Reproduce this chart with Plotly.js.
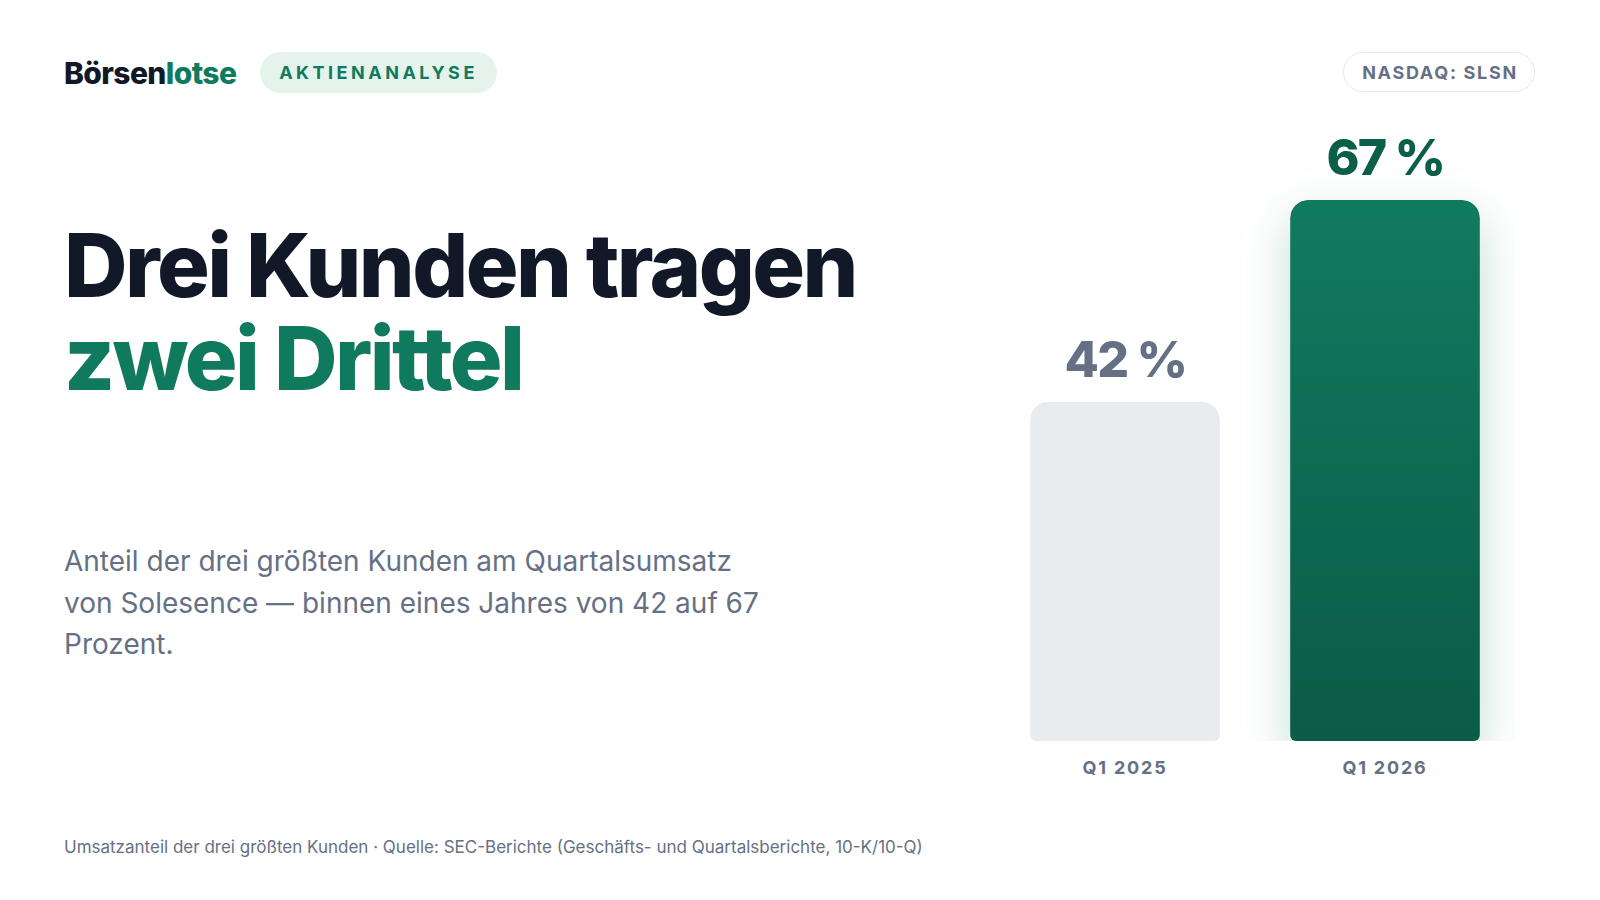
<!DOCTYPE html>
<html>
<head>
<meta charset="utf-8">
<script src="https://cdn.plot.ly/plotly-3.0.1.min.js"></script>
<style>
  html, body { margin: 0; padding: 0; background: #ffffff; }
  #wrap { position: relative; width: 1600px; height: 900px; overflow: hidden; font-family: Inter, "Noto Sans", sans-serif; }
  #chart { position: absolute; left: 0; top: 0; width: 1600px; height: 900px; }
  .ov { position: absolute; white-space: nowrap; pointer-events: none; }
  #logo { left: 64px; top: 55px; font-size: 30px; line-height: 36px; font-weight: 800; letter-spacing: -0.6px; color: #111827; }
  #logo span { color: #0F7A5D; }
  #pill1 { left: 260px; top: 52px; width: 237px; height: 41px; border-radius: 21px; background: #E5F3EC; color: #0F7A5D;
           font-size: 18px; font-weight: 700; letter-spacing: 3.5px; display: flex; align-items: center; justify-content: center; padding-left: 0px; box-sizing: border-box; }
  #pill2 { left: 1343px; top: 52px; width: 192px; height: 40px; border-radius: 20px; border: 1.5px solid #E5E7EB; background: #fff; color: #667085;
           font-size: 18px; font-weight: 700; letter-spacing: 1.7px; display: flex; align-items: center; justify-content: center; padding-left: 2px; box-sizing: border-box; }
  .title { left: 64px; font-size: 88px; line-height: 93px; height: 93px; font-weight: 800; letter-spacing: -2.6px; color: #111827; }
  #title1 { top: 219px; }
  #title2 { top: 312px; color: #0F7A5D; }
  #sub { left: 64px; top: 541px; font-size: 28px; line-height: 41.5px; font-weight: 400; color: #667085; }
  #foot { left: 64px; top: 837px; font-size: 17px; line-height: 20px; font-weight: 400; color: #667085; }
</style>
</head>
<body>
<div id="wrap">
  <div id="chart"></div>
  <div class="ov" id="logo">Börsen<span>lotse</span></div>
  <div class="ov" id="pill1">AKTIENANALYSE</div>
  <div class="ov" id="pill2">NASDAQ: SLSN</div>
  <div class="ov title" id="title1">Drei Kunden tragen</div>
  <div class="ov title" id="title2">zwei Drittel</div>
  <div class="ov" id="sub">Anteil der drei größten Kunden am Quartalsumsatz<br>von Solesence — binnen eines Jahres von 42 auf 67<br>Prozent.</div>
  <div class="ov" id="foot">Umsatzanteil der drei größten Kunden · Quelle: SEC-Berichte (Geschäfts- und Quartalsberichte, 10-K/10-Q)</div>
</div>
<script>
// ---- data ----
const categories = ['Q1 2025', 'Q1 2026'];
const shares = [42, 67];              // Anteil der drei größten Kunden, %
const valueLabels = shares.map(v => v + ' %');

// ---- styles ----
const barColors = ['#E8ECEF', '#0F7459'];
const labelColors = ['#667085', '#0B5E47'];

const trace = {
  type: 'bar',
  x: categories,
  y: shares,
  width: 0.73,
  marker: { color: barColors, line: { width: 0 } },
  hoverinfo: 'skip'
};

const annotations = categories.map((c, i) => ({
  x: c, y: shares[i], xref: 'x', yref: 'y',
  text: valueLabels[i], showarrow: false,
  xanchor: 'center', yanchor: 'bottom', yshift: 11,
  font: { family: 'Inter, sans-serif', size: 50, weight: 800, color: labelColors[i] }
}));

const layout = {
  width: 1600, height: 900,
  margin: { l: 995, r: 85, t: 95, b: 159, pad: 0 },
  paper_bgcolor: 'rgba(0,0,0,0)', plot_bgcolor: 'rgba(0,0,0,0)',
  showlegend: false,
  barcornerradius: 18,
  xaxis: {
    type: 'category', range: [-0.5, 1.5], fixedrange: true,
    showgrid: false, zeroline: false, showline: false, ticks: '',
    ticklabelstandoff: 14,
    tickfont: { family: 'Inter, sans-serif', size: 18, weight: 700, color: '#667085' }
  },
  yaxis: { range: [0, 80], visible: false, fixedrange: true, showgrid: false, zeroline: false },
  annotations: annotations
};

Plotly.newPlot('chart', [trace], layout, { staticPlot: true, displayModeBar: false }).then(gd => {
  const ns = 'http://www.w3.org/2000/svg';
  const svg = gd.querySelector('svg.main-svg');
  let defs = svg.querySelector('defs');
  if (!defs) { defs = document.createElementNS(ns, 'defs'); svg.insertBefore(defs, svg.firstChild); }
  const lg = document.createElementNS(ns, 'linearGradient');
  lg.setAttribute('id', 'greenGrad');
  lg.setAttribute('x1', '0'); lg.setAttribute('y1', '0'); lg.setAttribute('x2', '0'); lg.setAttribute('y2', '1');
  [['0', '#117B5F'], ['1', '#0B5B47']].forEach(([o, c]) => {
    const s = document.createElementNS(ns, 'stop');
    s.setAttribute('offset', o); s.setAttribute('stop-color', c);
    lg.appendChild(s);
  });
  defs.appendChild(lg);

  gd.querySelectorAll('.barlayer .point').forEach((g, i) => {
    const p = g.querySelector('path');
    if (!p) return;
    p.style.clipPath = 'inset(0 round 18px 18px 6px 6px)';
    if (i === 1) {
      p.style.fill = 'url(#greenGrad)';
      g.style.filter = 'drop-shadow(0px 18px 24px rgba(15,122,93,0.26))';
    }
  });
  gd.querySelectorAll('.xtick text').forEach(t => { t.style.letterSpacing = '1.8px'; });
  gd.querySelectorAll('.annotation-text').forEach(t => { t.style.letterSpacing = '-1.8px'; });
});
</script>
</body>
</html>
